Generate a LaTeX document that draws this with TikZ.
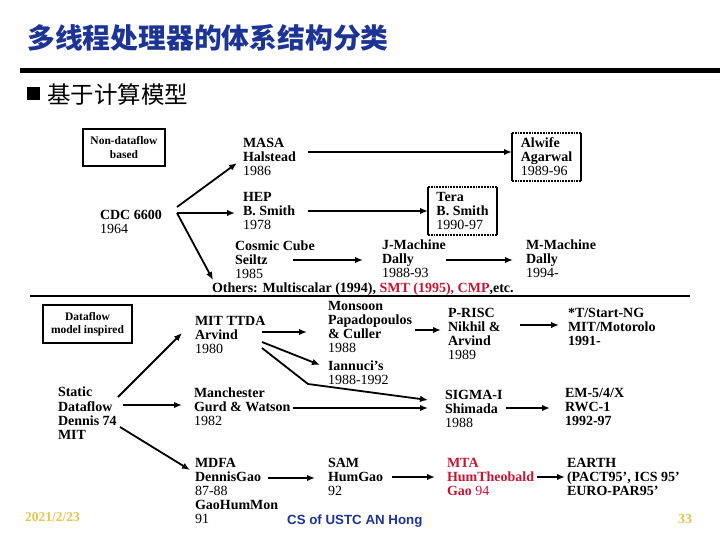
\documentclass[tikz,border=0pt]{standalone}
\usepackage{fontspec}
\setmainfont{Liberation Serif}
\newfontfamily\cjk{Noto Sans CJK SC}
\newfontfamily\sansf{Liberation Sans}
\usetikzlibrary{arrows.meta}
\definecolor{ttl}{RGB}{28,52,150}
\definecolor{rd}{RGB}{200,20,50}
\definecolor{gold}{RGB}{232,196,80}
\begin{document}
\begin{tikzpicture}[x=1pt,y=-1pt,
  lbl/.style={anchor=north west,inner sep=0pt,outer sep=0pt,align=left,font=\fontsize{14}{14}\selectfont},
  framed/.style={lbl,minimum width=69pt,inner ysep=5pt},
  arr/.style={line width=1.8pt,-{Latex[length=8pt,width=6.5pt]}},
  tag/.style={draw,line width=1.3pt,inner sep=0pt,align=center,font=\fontsize{11.5}{13.5}\selectfont\bfseries},
  solidedge/.style={line width=1.6pt},
  dotedge/.style={line width=1.8pt,densely dotted}
]
\useasboundingbox (0,0) rectangle (720,540);

% title
\node[anchor=west,inner sep=0pt,text=ttl,font=\cjk\bfseries\fontsize{27.8}{30}\selectfont] (title) at (27,38) {多线程处理器的体系结构分类};
\draw[line width=4.3pt] (20,70.5) -- (720,70.5);
\node[fill=black,minimum size=13pt,inner sep=0pt] (bullet) at (33.5,93.5) {};
\node[anchor=west,inner sep=0pt,font=\cjk\fontsize{23.5}{26}\selectfont] (sub) at (47,95) {基于计算模型};

% category tags
\node[tag,minimum width=82pt,minimum height=37pt] (nondf) at (124,147.5) {Non-dataflow\\based};
\node[tag,minimum width=89pt,minimum height=38pt] (df) at (87.5,324) {Dataflow\\model inspired};

% non-dataflow branch
\node[lbl] (cdc) at (100,210) {\strut\textbf{CDC 6600}\\1964};
\node[lbl] (masa) at (243,138) {\strut\textbf{MASA}\\\textbf{Halstead}\\1986};
\node[lbl] (hep) at (243,192) {\strut\textbf{HEP}\\\textbf{B. Smith}\\1978};
\node[framed,inner xsep=8pt] (alwife) at (512,133) {\strut\textbf{Alwife}\\\textbf{Agarwal}\\1989-96};
\node[framed,inner xsep=7pt] (tera) at (428,187) {\strut\textbf{Tera}\\\textbf{B. Smith}\\1990-97};
\draw[solidedge] (alwife.north west) -- (alwife.south west) (alwife.north east) -- (alwife.south east);
\draw[dotedge] (alwife.north west) -- (alwife.north east) (alwife.south west) -- (alwife.south east);
\draw[solidedge] (tera.north west) -- (tera.south west) (tera.north east) -- (tera.south east);
\draw[dotedge] (tera.north west) -- (tera.north east) (tera.south west) -- (tera.south east);
\node[lbl] (cosmic) at (235,241) {\strut\textbf{Cosmic Cube}\\\textbf{Seiltz}\\1985};
\node[lbl] (jm) at (382,240) {\strut\textbf{J-Machine}\\\textbf{Dally}\\1988-93};
\node[lbl] (mm) at (526,240) {\strut\textbf{M-Machine}\\\textbf{Dally}\\1994-};
\node[lbl] (others) at (212,283) {\strut\textbf{Others: Multiscalar (1994), \textcolor{rd}{SMT (1995), CMP},etc.}};

\draw[line width=1.8pt] (30,296) -- (690,296);

% dataflow branch
\node[lbl] (static) at (58,387) {\strut\textbf{Static}\\\textbf{Dataflow}\\\textbf{Dennis 74}\\\textbf{MIT}};
\node[lbl] (ttda) at (195,316) {\strut\textbf{MIT TTDA}\\\textbf{Arvind}\\1980};
\node[lbl] (manch) at (194,388) {\strut\textbf{Manchester}\\\textbf{Gurd \& Watson}\\1982};
\node[lbl] (monsoon) at (328,301) {\strut\textbf{Monsoon}\\\textbf{Papadopoulos}\\\textbf{\& Culler}\\1988};
\node[lbl] (iannuci) at (328,361) {\strut\textbf{Iannuci's}\\1988-1992};
\node[lbl] (prisc) at (448,308) {\strut\textbf{P-RISC}\\\textbf{Nikhil \&}\\\textbf{Arvind}\\1989};
\node[lbl] (tstar) at (568,308) {\strut\textbf{*T/Start-NG}\\\textbf{MIT/Motorolo}\\\textbf{1991-}};
\node[lbl] (sigma) at (445,390) {\strut\textbf{SIGMA-I}\\\textbf{Shimada}\\1988};
\node[lbl] (em) at (565,388) {\strut\textbf{EM-5/4/X}\\\textbf{RWC-1}\\\textbf{1992-97}};
\node[lbl] (mdfa) at (195,458) {\strut\textbf{MDFA}\\\textbf{DennisGao}\\87-88\\\textbf{GaoHumMon}\\91};
\node[lbl] (sam) at (328,458) {\strut\textbf{SAM}\\\textbf{HumGao}\\92};
\node[lbl,text=rd] (mta) at (447,458) {\strut\textbf{MTA}\\\textbf{HumTheobald}\\\textbf{Gao} 94};
\node[lbl] (earth) at (567,458) {\strut\textbf{EARTH}\\\textbf{(PACT95', ICS 95'}\\\textbf{EURO-PAR95'}};

% footer
\node[anchor=west,inner sep=0pt,text=gold,font=\fontsize{13.5}{14}\selectfont\bfseries] (date) at (25,517) {2021/2/23};
\node[anchor=west,inner sep=0pt,text=ttl,font=\sansf\bfseries\fontsize{13.3}{14}\selectfont] (foot) at (287,521) {CS of USTC AN Hong};
\node[anchor=west,inner sep=0pt,text=gold,font=\fontsize{14}{14}\selectfont\bfseries] (page) at (678,519) {33};

% connectors: non-dataflow
\draw[arr] ([shift={(77,-3)}]cdc.north west) -- ([shift={(-6,25)}]masa.north west);
\draw[arr] ([shift={(77,3)}]cdc.north west) -- ([shift={(-8,21)}]hep.north west);
\draw[arr] ([shift={(77,3)}]cdc.north west) -- ([shift={(1,-3)}]others.north west);
\draw[arr] ([shift={(65,14)}]masa.north west) -- ([shift={(0,19)}]alwife.north west);
\draw[arr] ([shift={(65,19)}]hep.north west) -- ([shift={(0,24)}]tera.north west);
\draw[arr] ([shift={(58,19)}]cosmic.north west) -- ([shift={(-19,20)}]jm.north west);
\draw[arr] ([shift={(64,20)}]jm.north west) -- ([shift={(-13,20)}]mm.north west);

% connectors: dataflow
\draw[arr] ([shift={(60,10)}]static.north west) -- ([shift={(-13,17)}]ttda.north west);
\draw[arr] ([shift={(65,18)}]static.north west) -- ([shift={(-12,17)}]manch.north west);
\draw[arr] ([shift={(62,40)}]static.north west) -- ([shift={(-5,12)}]mdfa.north west);
\draw[arr] ([shift={(67,16)}]ttda.north west) -- ([shift={(-21,31)}]monsoon.north west);
\draw[arr] ([shift={(67,26)}]ttda.north west) -- ([shift={(-8,4)}]iannuci.north west);
\draw[arr] ([shift={(67,32)}]ttda.north west) -- ++(46,36) -- ([shift={(-17,10)}]sigma.north west);
\draw[arr] ([shift={(99,20)}]manch.north west) -- ([shift={(-17,18)}]sigma.north west);
\draw[arr] ([shift={(87,29)}]monsoon.north west) -- ([shift={(-7,22)}]prisc.north west);
\draw[arr] ([shift={(72,17)}]prisc.north west) -- ([shift={(-9,17)}]tstar.north west);
\draw[arr] ([shift={(61,18)}]sigma.north west) -- ([shift={(-15,20)}]em.north west);
\draw[arr] ([shift={(73,20)}]mdfa.north west) -- ([shift={(-13,20)}]sam.north west);
\draw[arr] ([shift={(64,19)}]sam.north west) -- ([shift={(-12,19)}]mta.north west);
\draw[arr] ([shift={(90,19)}]mta.north west) -- ([shift={(-2,19)}]earth.north west);
\end{tikzpicture}
\end{document}
